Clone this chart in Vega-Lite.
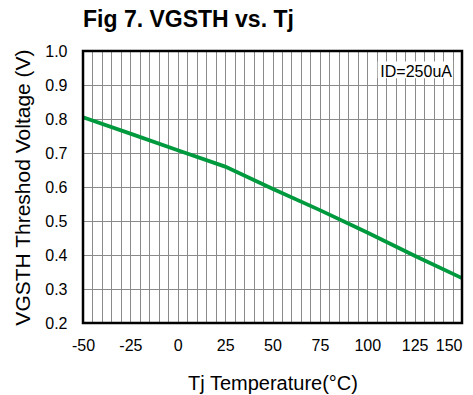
{
  "$schema": "https://vega.github.io/schema/vega-lite/v6.json",
  "width": 379,
  "height": 272,
  "autosize": "none",
  "padding": {"left": 83, "top": 51, "right": 11, "bottom": 73},
  "background": "white",
  "config": {"font": "Liberation Sans", "view": {"stroke": null}},
  "title": {"text": "Fig 7. VGSTH vs. Tj", "anchor": "start", "frame": "group", "fontSize": 23, "fontWeight": "bold", "color": "black", "font": "Liberation Sans", "offset": 11},
  "datasets": {
    "curve": [
      {"Tj": -50, "V": 0.805},
      {"Tj": -25, "V": 0.757},
      {"Tj": 0, "V": 0.708},
      {"Tj": 25, "V": 0.66},
      {"Tj": 50, "V": 0.595},
      {"Tj": 75, "V": 0.532},
      {"Tj": 100, "V": 0.466},
      {"Tj": 125, "V": 0.398},
      {"Tj": 150, "V": 0.332}
    ],
    "labelbox": [{"Tj": 105.5, "Tj2": 145.3, "V": 0.92, "V2": 0.969}],
    "note": [{"Tj": 144.7, "V": 0.939, "label": "ID=250uA"}],
    "frame": [{"Tj": -50, "Tj2": 150, "V": 0.2, "V2": 1.0}]
  },
  "encoding": {
    "x": {
      "field": "Tj", "type": "quantitative", "title": "Tj Temperature(°C)",
      "scale": {"domain": [-50, 150], "nice": false, "zero": false},
      "axis": {
        "values": [-50,-45,-40,-35,-30,-25,-20,-15,-10,-5,0,5,10,15,20,25,30,35,40,45,50,55,60,65,70,75,80,85,90,95,100,105,110,115,120,125,130,135,140,145,150],
        "labelExpr": "datum.value % 25 === 0 ? '' + datum.value : ''",
        "labelAlign": {"condition": {"test": "datum.value === 150", "value": "right"}, "value": "center"},
        "labelDx": {"condition": {"test": "datum.value === 150", "value": 2}, "value": 0},
        "ticks": false, "domain": false,
        "labelFontSize": 16, "labelColor": "black", "labelPadding": 14, "labelFlush": false, "labelOverlap": false,
        "titleFontSize": 20, "titleFontWeight": "normal", "titleColor": "black", "titlePadding": 20,
        "grid": true, "gridColor": "#8a8a8a", "gridWidth": 1, "gridOpacity": 1
      }
    },
    "y": {
      "field": "V", "type": "quantitative", "title": "VGSTH  Threshod Voltage (V)",
      "scale": {"domain": [0.2, 1.0], "nice": false, "zero": false},
      "axis": {
        "values": [0.2,0.3,0.4,0.5,0.6,0.7,0.8,0.9,1.0],
        "labelExpr": "format(datum.value, '.1f')",
        "ticks": false, "domain": false,
        "labelFontSize": 16, "labelColor": "black", "labelPadding": 16, "labelFlush": false, "labelOverlap": false,
        "titleFontSize": 21, "titleFontWeight": "normal", "titleColor": "black", "titlePadding": 11,
        "grid": true, "gridColor": "#8a8a8a", "gridWidth": 1, "gridOpacity": 1
      }
    }
  },
  "layer": [
    {
      "data": {"name": "curve"},
      "mark": {"type": "line", "color": "#009a3e", "strokeWidth": 3.8}
    },
    {
      "data": {"name": "labelbox"},
      "mark": {"type": "rect", "fill": "white", "stroke": null},
      "encoding": {
        "x2": {"field": "Tj2"},
        "y2": {"field": "V2"}
      }
    },
    {
      "data": {"name": "note"},
      "mark": {"type": "text", "align": "right", "baseline": "middle", "fontSize": 16, "color": "black", "font": "Liberation Sans"},
      "encoding": {
        "text": {"field": "label"}
      }
    },
    {
      "data": {"name": "frame"},
      "mark": {"type": "rect", "filled": false, "stroke": "black", "strokeWidth": 2.5},
      "encoding": {
        "x2": {"field": "Tj2"},
        "y2": {"field": "V2"}
      }
    }
  ]
}
